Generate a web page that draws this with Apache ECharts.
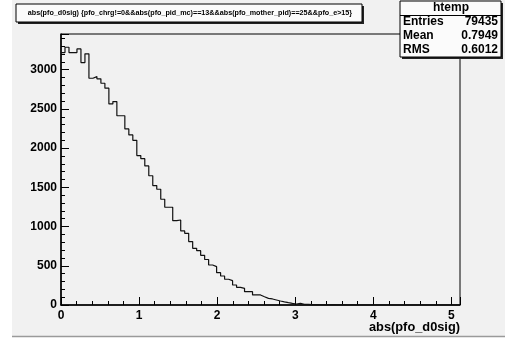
<!DOCTYPE html>
<html>
<head>
<meta charset="utf-8">
<script src="https://cdn.jsdelivr.net/npm/echarts@6/dist/echarts.min.js"></script>
<style>
  html, body { margin: 0; padding: 0; background: #fff; }
  #chart { width: 505px; height: 340px; }
</style>
</head>
<body>
<div id="chart"></div>
<script>
// histogram htemp: 100 bins from 0 to xMax
const xMax = 5.11;
const binContents = [
  3218, 3286, 3218, 3218, 3265, 3091, 3202, 2891, 2912, 2883,
  2827, 2764, 2564, 2593, 2413, 2413, 2245, 2168, 2100, 1905,
  1866, 1773, 1648, 1522, 1476, 1348, 1246, 1246, 1075, 1084,
  944, 914, 808, 723, 693, 633, 580, 510, 489, 412,
  370, 328, 310, 255, 225, 212, 170, 170, 128, 128,
  106, 85, 77, 64, 51, 40, 30, 21, 13, 21,
  9, 9, 5, 4, 3, 2, 2, 4, 1, 1,
  1, 0, 1, 0, 0, 0, 0, 0, 0, 0,
  0, 0, 0, 0, 0, 0, 0, 0, 0, 0,
  0, 0, 0, 0, 0, 0, 0, 0, 0, 0
];
const yMax = 3455;
const titleText = "abs(pfo_d0sig) {pfo_chrg!=0&&abs(pfo_pid_mc)==13&&abs(pfo_mother_pid)==25&&pfo_e>15}";
const statsNames = ["Entries", "Mean", "RMS"];
const statsValues = ["79435", "0.7949", "0.6012"];
const xTitle = "abs(pfo_d0sig)";

const binWidth = xMax / binContents.length;
const histData = binContents.map((v, i) => [i * binWidth, v]);
histData.push([xMax, binContents[binContents.length - 1]]);

const font = "Liberation Sans, Arial, Helvetica, sans-serif";
const onStep = step => v => (Math.abs(v / step - Math.round(v / step)) < 1e-6 ? String(Math.round(v)) : "");

let statsGraphics = [
  { type: "rect", shape: { x: 402, y: 3, width: 101, height: 56 }, style: { fill: "#222" } },
  { type: "rect", shape: { x: 400, y: 1, width: 101, height: 56 }, style: { fill: "#fbfbfb", stroke: "#000", lineWidth: 1 } },
  { type: "line", shape: { x1: 400, y1: 15.5, x2: 501, y2: 15.5 }, style: { stroke: "#000", lineWidth: 1 } },
  { type: "text", x: 451, y: 8, style: { text: "htemp", font: "bold 12px " + font, fill: "#000", align: "center", verticalAlign: "middle" } }
];
statsNames.forEach((n, i) => {
  statsGraphics.push({ type: "text", x: 403, y: 22 + i * 14, style: { text: n, font: "bold 12px " + font, fill: "#000", align: "left", verticalAlign: "middle" } });
  statsGraphics.push({ type: "text", x: 498, y: 22 + i * 14, style: { text: statsValues[i], font: "bold 12px " + font, fill: "#000", align: "right", verticalAlign: "middle" } });
});

let option = {
  animation: false,
  backgroundColor: "#f1f1f1",
  grid: {
    left: 61, right: 45, top: 34, bottom: 35,
    outerBoundsMode: "none",
    show: true, borderColor: "#000", borderWidth: 1, backgroundColor: "transparent"
  },
  xAxis: {
    type: "value", min: 0, max: xMax, interval: 1,
    splitLine: { show: false },
    axisLine: { onZero: false, lineStyle: { color: "#000", width: 1.5 } },
    axisTick: { inside: true, length: 8, lineStyle: { color: "#000" } },
    minorTick: { show: true, splitNumber: 5, length: 4, lineStyle: { color: "#000" } },
    axisLabel: { formatter: onStep(1), color: "#000", fontWeight: "bold", fontSize: 12, fontFamily: font, margin: 5 }
  },
  yAxis: {
    type: "value", min: 0, max: yMax, interval: 500,
    splitLine: { show: false },
    axisLine: { onZero: false, lineStyle: { color: "#000", width: 1.5 } },
    axisTick: { inside: true, length: 8, lineStyle: { color: "#000" } },
    minorTick: { show: true, splitNumber: 5, length: 4, lineStyle: { color: "#000" } },
    axisLabel: { formatter: onStep(500), color: "#000", fontWeight: "bold", fontSize: 12, fontFamily: font, margin: 4 }
  },
  series: [{
    type: "line", step: "end", data: histData, symbol: "none",
    lineStyle: { color: "#111", width: 1.2 }
  }],
  graphic: [
    { type: "rect", shape: { x: 0, y: 0, width: 12, height: 340 }, style: { fill: "#fff" }, z: 100 },
    { type: "rect", shape: { x: 0, y: 337, width: 505, height: 3 }, style: { fill: "#fff" }, z: 100 },
    { type: "line", shape: { x1: 12, y1: 336.5, x2: 505, y2: 336.5 }, style: { stroke: "#9a9a9a", lineWidth: 1.5 }, z: 100 },
    { type: "text", x: 460, y: 327, style: { text: xTitle, font: "bold 12.8px " + font, fill: "#000", align: "right", verticalAlign: "middle" }, z: 100 },
    { type: "rect", shape: { x: 18, y: 6, width: 346, height: 18 }, style: { fill: "#222" }, z: 100 },
    { type: "rect", shape: { x: 16, y: 4, width: 346, height: 18 }, style: { fill: "#fbfbfb", stroke: "#000", lineWidth: 1 }, z: 100 },
    { type: "text", x: 190, y: 13, style: { text: titleText, font: "bold 7.2px " + font, fill: "#000", align: "center", verticalAlign: "middle" }, z: 100 },
    { type: "group", children: statsGraphics, z: 100 }
  ]
};

let myChart = echarts.init(document.getElementById("chart"));
myChart.setOption(option);
</script>
</body>
</html>
